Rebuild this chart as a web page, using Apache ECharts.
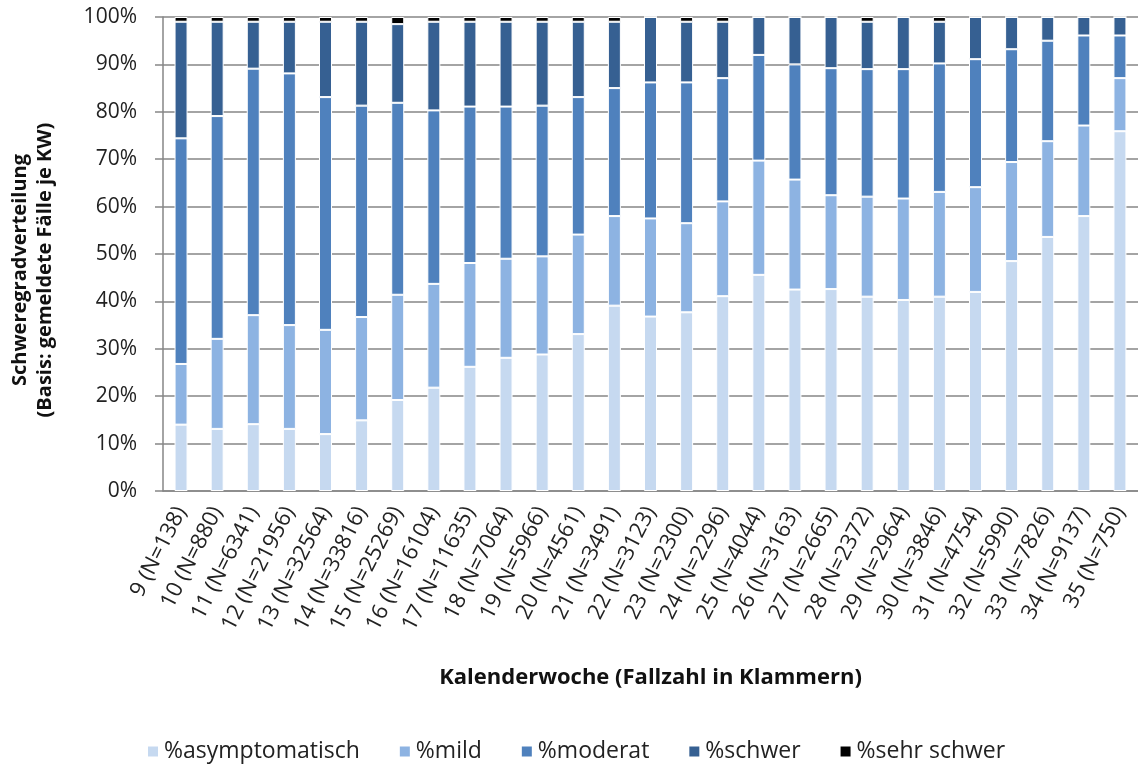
<!DOCTYPE html>
<html>
<head>
<meta charset="utf-8">
<title>Schweregradverteilung</title>
<script src="https://cdn.jsdelivr.net/npm/echarts@6/dist/echarts.min.js"></script>
<style>
  html, body { margin: 0; padding: 0; background: #fff; }
  #chart { width: 1138px; height: 765px; }
</style>
</head>
<body>
<div id="chart"></div>
<script>
// Kalenderwochen mit Fallzahl
const weeks = ['9 (N=138)', '10 (N=880)', '11 (N=6341)', '12 (N=21956)', '13 (N=32564)', '14 (N=33816)',
  '15 (N=25269)', '16 (N=16104)', '17 (N=11635)', '18 (N=7064)', '19 (N=5966)', '20 (N=4561)',
  '21 (N=3491)', '22 (N=3123)', '23 (N=2300)', '24 (N=2296)', '25 (N=4044)', '26 (N=3163)',
  '27 (N=2665)', '28 (N=2372)', '29 (N=2964)', '30 (N=3846)', '31 (N=4754)', '32 (N=5990)',
  '33 (N=7826)', '34 (N=9137)', '35 (N=750)']

// Anteile in Prozent je KW
const asymptomatisch = [14.0, 13.1, 14.1, 13.1, 12.0, 14.9, 19.2, 21.8, 26.2, 28.1, 28.8, 33.1, 39.1, 36.8,
  37.7, 41.1, 45.6, 42.5, 42.6, 41.0, 40.3, 41.0, 42.0, 48.5, 53.6, 58.0, 75.9]
const mild = [12.8, 19.0, 23.0, 21.9, 22.0, 21.8, 22.2, 21.9, 21.9, 20.9, 20.7, 21.0, 18.9, 20.7,
  18.8, 20.0, 24.1, 23.2, 19.8, 21.1, 21.4, 22.1, 22.1, 20.9, 20.2, 19.1, 11.2]
const moderat = [47.6, 47.0, 52.0, 53.1, 49.1, 44.6, 40.5, 36.6, 33.0, 32.1, 31.8, 29.0, 27.0, 28.7,
  29.7, 26.0, 22.3, 24.3, 26.8, 26.9, 27.3, 27.1, 27.0, 23.8, 21.2, 19.0, 9.0]
const schwer = [24.6, 19.9, 9.9, 10.9, 15.9, 17.7, 16.6, 18.7, 17.9, 17.9, 17.7, 15.9, 14.0, 13.8,
  12.8, 11.9, 8.0, 10.0, 10.8, 10.0, 11.0, 8.8, 8.9, 6.8, 5.0, 3.9, 3.9]
const sehrSchwer = [1.0, 1.0, 1.0, 1.0, 1.0, 1.0, 1.5, 1.0, 1.0, 1.0, 1.0, 1.0, 1.0, 0,
  1.0, 1.0, 0, 0, 0, 1.0, 0, 1.0, 0, 0, 0, 0, 0]

const seriesNames = ['%asymptomatisch', '%mild', '%moderat', '%schwer', '%sehr schwer']
const colors = ['#c6d9f0', '#8db3e2', '#4f81bd', '#366092', '#000000']

const font = '"Open Sans", Lato, sans-serif'
const gray = '#868686'

const chart = echarts.init(document.getElementById('chart'))

function barSeries (name, data, color) {
  return {
    name: name,
    type: 'bar',
    stack: 'total',
    barWidth: 13,
    data: data,
    itemStyle: {
      color: color,
      borderColor: '#fff',
      borderWidth: 1
    }
  }
}

chart.setOption({
  animation: false,
  color: colors,
  grid: {
    left: 163,
    right: -15,
    top: 17,
    bottom: 274
  },
  legend: {
    left: 146,
    bottom: 2,
    padding: 0,
    icon: 'rect',
    itemWidth: 12,
    itemHeight: 12,
    itemGap: 38,
    textStyle: { fontFamily: font, fontSize: 23, color: '#222' },
    data: seriesNames
  },
  xAxis: {
    type: 'category',
    data: weeks,
    name: 'Kalenderwoche (Fallzahl in Klammern)',
    nameLocation: 'middle',
    nameGap: 176,
    nameTextStyle: { fontFamily: font, fontSize: 22, fontWeight: 'bold', color: '#111' },
    axisLine: { lineStyle: { color: gray, width: 1.5 } },
    axisTick: { length: 6, lineStyle: { color: gray, width: 1.5 } },
    axisLabel: {
      rotate: 63,
      interval: 0,
      margin: 17,
      fontFamily: font,
      fontSize: 22,
      color: '#222',
      padding: [0, 0, 0, 8]
    }
  },
  yAxis: {
    type: 'value',
    min: 0,
    max: 100,
    interval: 10,
    name: 'Schweregradverteilung\n(Basis: gemeldete Fälle je KW)',
    nameLocation: 'middle',
    nameGap: 105,
    nameRotate: 90,
    nameTextStyle: {
      fontFamily: font,
      fontSize: 20,
      fontWeight: 'bold',
      color: '#111',
      lineHeight: 25,
      padding: [0, 32, 0, 0]
    },
    axisLine: { show: true, lineStyle: { color: gray, width: 1.5 } },
    axisTick: { show: true, length: 8, lineStyle: { color: gray, width: 1.5 } },
    axisLabel: {
      formatter: '{value}%',
      margin: 26,
      fontFamily: font,
      fontSize: 21,
      color: '#222'
    },
    splitLine: { lineStyle: { color: gray, width: 1.5 } }
  },
  series: [
    barSeries(seriesNames[0], asymptomatisch, colors[0]),
    barSeries(seriesNames[1], mild, colors[1]),
    barSeries(seriesNames[2], moderat, colors[2]),
    barSeries(seriesNames[3], schwer, colors[3]),
    barSeries(seriesNames[4], sehrSchwer, colors[4])
  ]
})
</script>
</body>
</html>
